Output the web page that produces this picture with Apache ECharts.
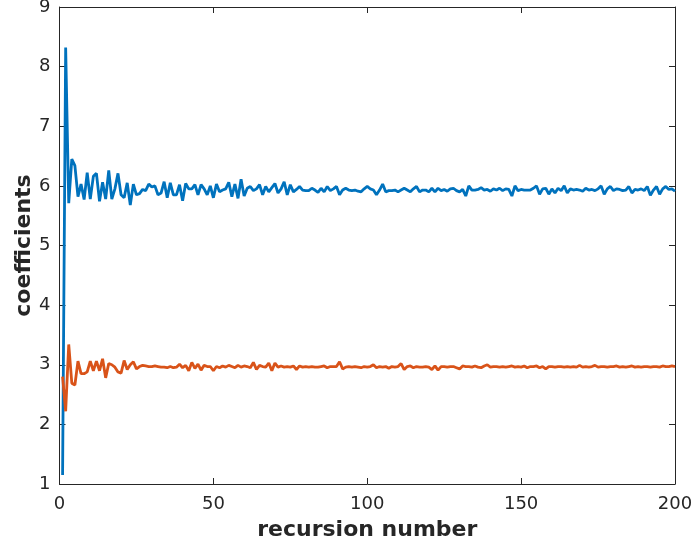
<!DOCTYPE html>
<html>
<head>
<meta charset="utf-8">
<script src="https://cdn.jsdelivr.net/npm/echarts@6/dist/echarts.min.js"></script>
<style>html,body{margin:0;padding:0;background:#fff}#c{width:694px;height:547px}</style>
</head>
<body>
<div id="c"></div>
<script>
var xTicks = [0, 50, 100, 150, 200];
var yTicks = [1, 2, 3, 4, 5, 6, 7, 8, 9];
var blueValues = [
1.15,8.32,5.71,6.45,6.34,5.82,6.03,5.77,6.22,5.78,
6.16,6.21,5.74,6.06,5.78,6.26,5.78,5.95,6.21,5.85,
5.80,6.05,5.68,6.03,5.85,5.87,5.94,5.92,6.03,5.98,
6.00,5.85,5.88,6.07,5.80,6.05,5.85,5.85,6.02,5.75,
6.04,5.95,5.95,6.02,5.85,6.02,5.95,5.85,6.00,5.80,
6.03,5.90,5.93,5.95,6.06,5.82,6.03,5.79,6.11,5.83,
5.96,5.99,5.92,5.95,6.02,5.85,5.99,5.90,5.97,6.04,
5.88,5.95,6.07,5.85,6.02,5.90,5.94,5.99,5.93,5.92,
5.92,5.96,5.93,5.89,5.96,5.90,5.99,5.92,5.95,5.99,
5.85,5.93,5.96,5.93,5.92,5.93,5.91,5.90,5.95,5.99,
5.95,5.93,5.85,5.93,6.03,5.90,5.92,5.92,5.93,5.90,
5.93,5.96,5.93,5.90,5.95,5.99,5.90,5.93,5.93,5.90,
5.96,5.90,5.96,5.92,5.94,5.91,5.95,5.96,5.92,5.90,
5.94,5.83,6.00,5.93,5.93,5.94,5.97,5.93,5.94,5.91,
5.95,5.93,5.96,5.92,5.95,5.94,5.83,6.00,5.92,5.94,
5.93,5.93,5.93,5.96,6.00,5.86,5.95,5.96,5.86,5.95,
5.88,5.96,5.92,6.00,5.88,5.95,5.93,5.94,5.93,5.91,
5.96,5.93,5.94,5.92,5.95,6.00,5.86,5.95,5.99,5.92,
5.95,5.94,5.92,5.93,5.99,5.88,5.94,5.93,5.95,5.92,
5.99,5.84,5.93,5.99,5.86,5.95,5.99,5.94,5.95,5.91
];
var orangeValues = [
2.80,2.22,3.34,2.69,2.66,3.06,2.85,2.85,2.88,3.06,
2.90,3.06,2.90,3.10,2.78,3.02,3.00,2.96,2.88,2.86,
3.07,2.92,3.00,3.05,2.93,2.97,2.99,2.98,2.97,2.97,
2.98,2.97,2.96,2.96,2.95,2.97,2.95,2.96,3.01,2.95,
2.99,2.90,3.04,2.94,3.01,2.91,2.99,2.97,2.97,2.90,
2.97,2.95,2.98,2.96,2.99,2.97,2.95,2.99,2.96,2.98,
2.97,2.95,3.04,2.92,2.99,2.97,2.96,3.03,2.90,3.03,
2.96,2.98,2.96,2.97,2.96,2.98,2.92,2.98,2.96,2.97,
2.96,2.97,2.96,2.96,2.97,2.98,2.95,2.97,2.97,2.97,
3.05,2.93,2.96,2.97,2.96,2.97,2.96,2.95,2.97,2.96,
2.97,3.00,2.95,2.97,2.96,2.97,2.94,2.97,2.96,2.97,
3.02,2.92,2.97,2.98,2.95,2.97,2.96,2.96,2.97,2.96,
2.92,2.98,2.91,2.97,2.97,2.96,2.97,2.97,2.95,2.93,
2.98,2.97,2.97,2.96,2.98,2.96,2.95,2.98,3.00,2.96,
2.97,2.97,2.96,2.97,2.96,2.97,2.98,2.96,2.97,2.96,
2.98,2.95,2.97,2.97,2.98,2.95,2.97,2.93,2.97,2.97,
2.96,2.97,2.97,2.96,2.97,2.96,2.97,2.96,2.99,2.96,
2.97,2.96,2.97,2.99,2.96,2.97,2.97,2.96,2.97,2.97,
2.98,2.96,2.97,2.96,2.97,2.98,2.96,2.97,2.96,2.97,
2.97,2.96,2.97,2.97,2.96,2.98,2.97,2.97,2.98,2.97
];
var xName = 'recursion number';
var yName = 'coefficients';

function toPairs(vals){ return vals.map(function(v,i){ return [i+1, v]; }); }
var FONT = 'DejaVu Sans';
var axisColor = '#262626';
var lineStyle = {color: axisColor, width: 1};
var tick = {show: true, inside: true, length: 6, lineStyle: {color: axisColor}};

var chart = echarts.init(document.getElementById('c'), null, {renderer: 'canvas'});
chart.setOption({
  animation: false,
  backgroundColor: '#fff',
  grid: {left: 59.5, right: 19, top: 7, bottom: 63, containLabel: false, outerBoundsMode: 'none'},
  xAxis: [{
    type: 'value', min: xTicks[0], max: xTicks[xTicks.length-1], interval: 50,
    position: 'bottom',
    axisLine: {show: true, onZero: false, lineStyle: lineStyle},
    axisTick: tick,
    splitLine: {show: false},
    axisLabel: {color: axisColor, fontFamily: FONT, fontSize: 18, margin: 11},
    name: xName, nameLocation: 'middle', nameGap: 35, nameMoveOverlap: false,
    nameTextStyle: {color: axisColor, fontFamily: FONT, fontSize: 22, fontWeight: 'bold'}
  }, {
    type: 'value', min: xTicks[0], max: xTicks[xTicks.length-1], interval: 50,
    position: 'top',
    axisLine: {show: true, onZero: false, lineStyle: lineStyle},
    axisTick: tick, splitLine: {show: false}, axisLabel: {show: false}
  }],
  yAxis: [{
    type: 'value', min: yTicks[0], max: yTicks[yTicks.length-1], interval: 1,
    position: 'left',
    axisLine: {show: true, onZero: false, lineStyle: lineStyle},
    axisTick: tick,
    splitLine: {show: false},
    axisLabel: {color: axisColor, fontFamily: FONT, fontSize: 18, margin: 9},
    name: yName, nameLocation: 'middle', nameGap: 24, nameRotate: 90, nameMoveOverlap: false,
    nameTextStyle: {color: axisColor, fontFamily: FONT, fontSize: 22, fontWeight: 'bold'}
  }, {
    type: 'value', min: yTicks[0], max: yTicks[yTicks.length-1], interval: 1,
    position: 'right',
    axisLine: {show: true, onZero: false, lineStyle: lineStyle},
    axisTick: tick, splitLine: {show: false}, axisLabel: {show: false}
  }],
  series: [{
    type: 'line', data: toPairs(blueValues), showSymbol: false,
    xAxisIndex: 0, yAxisIndex: 0,
    lineStyle: {color: '#0072BD', width: 2.8}, itemStyle: {color: '#0072BD'}
  }, {
    type: 'line', data: toPairs(orangeValues), showSymbol: false,
    xAxisIndex: 0, yAxisIndex: 0,
    lineStyle: {color: '#D95319', width: 2.8}, itemStyle: {color: '#D95319'}
  }]
});
</script>
</body>
</html>
